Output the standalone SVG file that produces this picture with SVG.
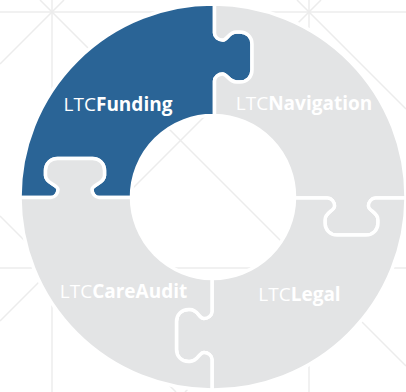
<svg xmlns="http://www.w3.org/2000/svg" width="406" height="392" viewBox="0 0 406 392">
  <style>
    .bg { stroke: #ececec; stroke-width: 1.5; fill: none; }
    .piece { stroke: #ffffff; stroke-width: 3.5; stroke-linejoin: round; }
    .blue { fill: #2a6496; }
    .gray { fill: #e3e4e5; }
    .label { font-family: "Open Sans", "Liberation Sans", sans-serif; font-size: 19px; fill: #ffffff; text-anchor: middle; }
    .b { font-weight: bold; }
  </style>
  <rect width="406" height="392" fill="#ffffff"/>
  <g id="background-grid">
    <line class="bg" x1="0" y1="12" x2="406" y2="12"/>
    <line class="bg" x1="0" y1="268" x2="406" y2="268"/>
    <line class="bg" x1="52" y1="0" x2="52" y2="392"/>
    <line class="bg" x1="309" y1="0" x2="309" y2="392"/>
    <line class="bg" x1="40" y1="0" x2="406" y2="366"/>
    <line class="bg" x1="64" y1="0" x2="0" y2="64"/>
    <line class="bg" x1="297" y1="0" x2="406" y2="109"/>
    <line class="bg" x1="321" y1="0" x2="0" y2="321"/>
    <line class="bg" x1="406" y1="171" x2="185" y2="392"/>
    <line class="bg" x1="0" y1="216" x2="176" y2="392"/>
  </g>
  <g id="ltc-funding">
    <path class="piece blue" d="M 20,197.5 A 193 193 0 0 1 214.5,4 L 214.5,33 C 214.5,37 218.5,40 222.5,40 C 227.5,40 228.5,32 236.5,32 L 240,32 C 247,32 252,37 252,44 L 252,70 C 252,77 247,82 240,82 L 236.5,82 C 228.5,82 227.5,74 222.5,74 C 218.5,74 214.5,77 214.5,81 L 214.5,115.5 A 81.5 81.5 0 0 0 131.5,197.5 L 99,197.5 C 95,197.5 92,193.5 92,189.5 C 92,184.5 104.5,183.5 104.5,175.5 L 104.5,170.5 C 104.5,163.5 99.5,158.5 92.5,158.5 L 57.5,158.5 C 50.5,158.5 45.5,163.5 45.5,170.5 L 45.5,175.5 C 45.5,183.5 58,184.5 58,189.5 C 58,193.5 55,197.5 51,197.5 Z"/>
    <text class="label" x="118" y="111">LTC<tspan class="b">Funding</tspan></text>
  </g>
  <g id="ltc-navigation">
    <path class="piece gray" d="M 214.5,4 A 193 193 0 0 1 406,198 L 375.5,198 C 371.5,198 368.5,202 368.5,206 C 368.5,211 378,212 378,220 L 378,223 C 378,230 373,235 366,235 L 337,235 C 330,235 325,230 325,223 L 325,220 C 325,212 334.5,211 334.5,206 C 334.5,202 331.5,198 327.5,198 L 294.5,198 A 81.5 81.5 0 0 0 214.5,115.5 L 214.5,81 C 214.5,77 218.5,74 222.5,74 C 227.5,74 228.5,82 236.5,82 L 240,82 C 247,82 252,77 252,70 L 252,44 C 252,37 247,32 240,32 L 236.5,32 C 228.5,32 227.5,40 222.5,40 C 218.5,40 214.5,37 214.5,33 Z"/>
    <text class="label" x="304" y="110">LTC<tspan class="b">Navigation</tspan></text>
  </g>
  <g id="ltc-legal">
    <path class="piece gray" d="M 406,198 A 193 193 0 0 1 212,390 L 212,359.5 C 212,355.5 208,352.5 204,352.5 C 199,352.5 198,361.5 190,361.5 L 188.5,361.5 C 181.5,361.5 176.5,356.5 176.5,349.5 L 176.5,321.5 C 176.5,314.5 181.5,309.5 188.5,309.5 L 190,309.5 C 198,309.5 199,318.5 204,318.5 C 208,318.5 212,315.5 212,311.5 L 212,278.5 A 81.5 81.5 0 0 0 294.5,198 L 327.5,198 C 331.5,198 334.5,202 334.5,206 C 334.5,211 325,212 325,220 L 325,223 C 325,230 330,235 337,235 L 366,235 C 373,235 378,230 378,223 L 378,220 C 378,212 368.5,211 368.5,206 C 368.5,202 371.5,198 375.5,198 Z"/>
    <text class="label" x="299.5" y="301">LTC<tspan class="b">Legal</tspan></text>
  </g>
  <g id="ltc-careaudit">
    <path class="piece gray" d="M 212,390 A 193 193 0 0 1 20,197.5 L 51,197.5 C 55,197.5 58,193.5 58,189.5 C 58,184.5 45.5,183.5 45.5,175.5 L 45.5,170.5 C 45.5,163.5 50.5,158.5 57.5,158.5 L 92.5,158.5 C 99.5,158.5 104.5,163.5 104.5,170.5 L 104.5,175.5 C 104.5,183.5 92,184.5 92,189.5 C 92,193.5 95,197.5 99,197.5 L 131.5,197.5 A 81.5 81.5 0 0 0 212,278.5 L 212,311.5 C 212,315.5 208,318.5 204,318.5 C 199,318.5 198,309.5 190,309.5 L 188.5,309.5 C 181.5,309.5 176.5,314.5 176.5,321.5 L 176.5,349.5 C 176.5,356.5 181.5,361.5 188.5,361.5 L 190,361.5 C 198,361.5 199,352.5 204,352.5 C 208,352.5 212,355.5 212,359.5 Z"/>
    <text class="label" x="123.5" y="298">LTC<tspan class="b">CareAudit</tspan></text>
  </g>
</svg>
